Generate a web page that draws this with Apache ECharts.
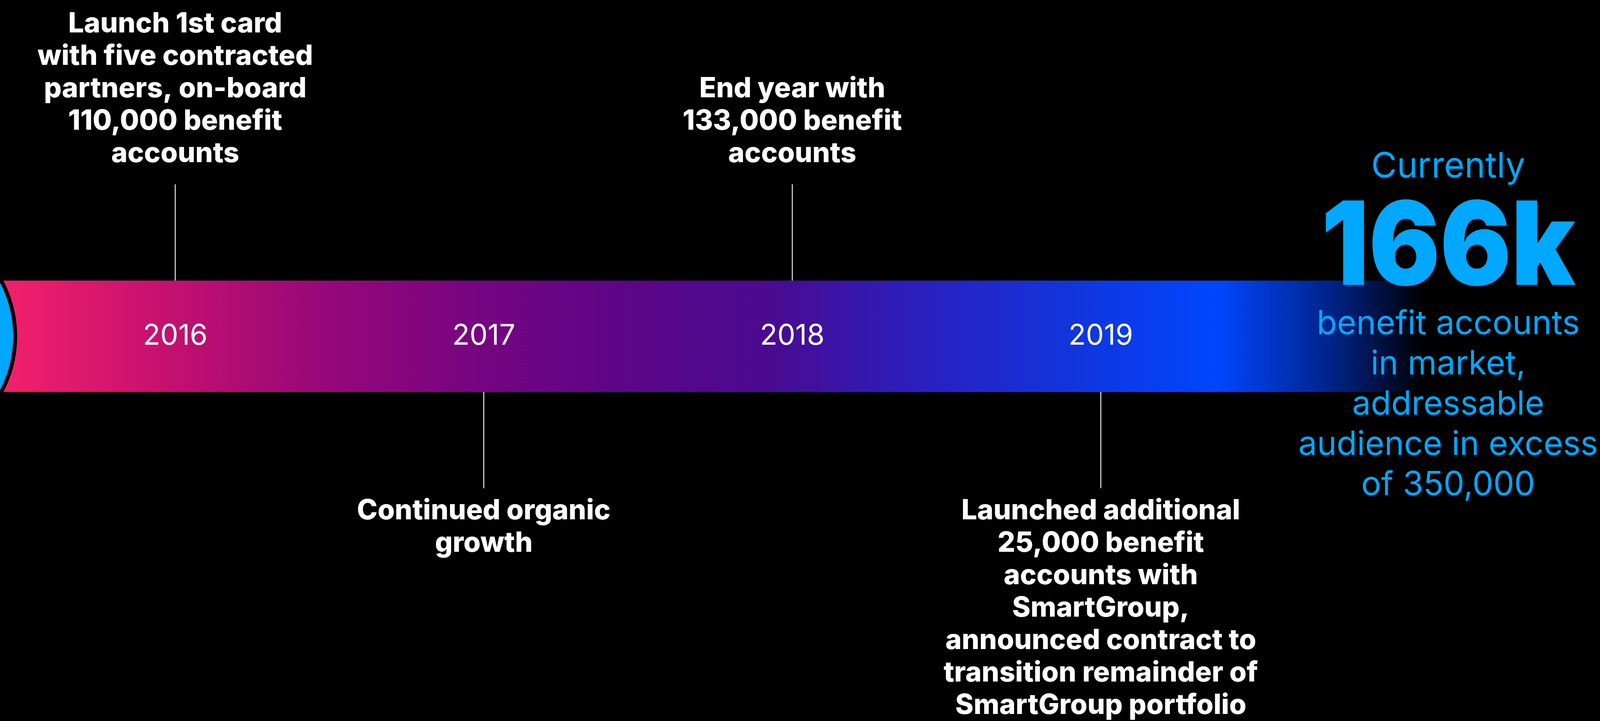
<!DOCTYPE html>
<html><head><meta charset="utf-8">
<script src="https://cdn.jsdelivr.net/npm/echarts@6/dist/echarts.min.js"></script>
<style>html,body{margin:0;padding:0;background:#000;overflow:hidden;width:100%;height:100%}#chart{width:100vw;height:100vh;}</style>
</head><body><div id="chart"></div>
<script>
// ---- data ----
const years = [2016, 2017, 2018, 2019];
const yearLabels = ['2016', '2017', '2018', '2019'];
const milestoneText = [
  ['Launch 1st card', 'with five contracted', 'partners, on-board', '110,000 benefit', 'accounts'],
  ['Continued organic', 'growth'],
  ['End year with', '133,000 benefit', 'accounts'],
  ['Launched additional', '25,000 benefit', 'accounts with', 'SmartGroup,', 'announced contract to', 'transition remainder of', 'SmartGroup portfolio']
];
const milestoneSide = ['above', 'below', 'above', 'below'];
const currentLabel = 'Currently';
const currentValue = '166k';
const currentDetail = ['benefit accounts', 'in market,', 'addressable', 'audience in excess', 'of 350,000'];
const timelineStart = 2015.432;
const timelineEnd = 2020.05;
const originPoint = 2015.10;
const currentPoint = 2020.126;

// ---- layout / style ----
const X_MIN = 2015.432, X_MAX = 2020.618;
const Y_MIN = -6.91, Y_MAX = 6.04;
const BAND = 1, STEM = 2.73;
const BLUE = '#00a8ff';
const FONT = 'Inter';
const NOBORDER = {textBorderWidth: 0, textBorderColor: 'transparent', textShadowBlur: 0, opacity: 1};

const chart = echarts.init(document.getElementById('chart'), null, {renderer: 'canvas'});

const bandSeries = {
  type: 'custom', silent: true, z: 1, clip: false,
  data: [[timelineStart, timelineEnd]],
  encode: {x: [0, 1]},
  renderItem(params, api) {
    const p0 = api.coord([api.value(0), BAND]);
    const p1 = api.coord([api.value(1), -BAND]);
    return {
      type: 'rect',
      shape: {x: p0[0], y: p0[1], width: p1[0] - p0[0], height: p1[1] - p0[1]},
      style: {
        fill: new echarts.graphic.LinearGradient(0, 0, 1, 0, [
          {offset: 0.00, color: '#f3216a'},
          {offset: 0.11, color: '#c8116f'},
          {offset: 0.22, color: '#9a0879'},
          {offset: 0.33, color: '#780481'},
          {offset: 0.43, color: '#5e0587'},
          {offset: 0.54, color: '#4a0a90'},
          {offset: 0.64, color: '#2c1ebd'},
          {offset: 0.75, color: '#1234dc'},
          {offset: 0.855, color: '#0046ff'},
          {offset: 0.93, color: '#002590'},
          {offset: 1.00, color: '#000000'}
        ])
      }
    };
  }
};

const stemSeries = {
  type: 'custom', silent: true, z: 2,
  data: years.map((y, i) => milestoneSide[i] === 'above' ? [y, BAND, STEM] : [y, -BAND, -STEM]),
  encode: {x: 0, y: [1, 2]},
  renderItem(params, api) {
    const a = api.coord([api.value(0), api.value(1)]);
    const b = api.coord([api.value(0), api.value(2)]);
    return {type: 'line', shape: {x1: a[0], y1: a[1], x2: b[0], y2: b[1]},
      style: {stroke: '#e8e8e8', lineWidth: 2.5}};
  }
};

const originSeries = {
  type: 'scatter', silent: true, z: 3, clip: false,
  data: [[originPoint, 0]],
  symbol: 'circle', symbolSize: 602,
  itemStyle: {color: BLUE, borderColor: '#000', borderWidth: 10, opacity: 1}
};

const yearSeries = {
  type: 'scatter', silent: true, z: 4,
  data: years.map((y, i) => ({value: [y, 0], label: {formatter: yearLabels[i]}})),
  symbolSize: 0,
  itemStyle: {color: '#ffffff', opacity: 1},
  label: Object.assign({show: true, position: 'inside', color: '#ffffff', fontFamily: FONT, fontWeight: 400, fontSize: 73}, NOBORDER)
};

const noteSeries = {
  type: 'scatter', silent: true, z: 4,
  data: years.map((y, i) => {
    const up = milestoneSide[i] === 'above';
    return {
      value: [y, up ? STEM : -STEM],
      label: {formatter: milestoneText[i].join('\n'), position: up ? 'top' : 'bottom', distance: up ? 36 : 17}
    };
  }),
  symbolSize: 0,
  itemStyle: {color: '#ffffff', opacity: 1},
  label: Object.assign({show: true, color: '#ffffff', fontFamily: FONT, fontWeight: 800, fontSize: 71, lineHeight: 83, align: 'center'}, NOBORDER)
};

const currentSeries = {
  type: 'scatter', silent: true, z: 5, clip: false,
  data: [
    {value: [currentPoint, 3.04], label: {formatter: currentLabel, fontSize: 90, fontWeight: 400}},
    {value: [currentPoint, -1.23], label: {formatter: currentDetail.join('\n'), fontSize: 85, fontWeight: 400, lineHeight: 103}}
  ],
  symbolSize: 0,
  itemStyle: {color: BLUE, opacity: 1},
  label: Object.assign({show: true, position: 'inside', color: BLUE, fontFamily: FONT, align: 'center'}, NOBORDER)
};

const currentValueSeries = {
  type: 'custom', silent: true, z: 6, clip: false,
  data: [[currentPoint, 1.55]],
  encode: {x: 0, y: 1},
  renderItem(params, api) {
    const p = api.coord([api.value(0), api.value(1)]);
    return {
      type: 'text', x: p[0], y: p[1], scaleY: 1.1,
      style: {text: currentValue, fill: BLUE, fontFamily: FONT, fontWeight: 900, fontSize: 270,
        align: 'center', verticalAlign: 'middle'}
    };
  }
};

chart.setOption({
  backgroundColor: '#000',
  animation: false,
  grid: {left: 0, right: 0, top: 0, bottom: 0},
  xAxis: {type: 'value', min: X_MIN, max: X_MAX, show: false},
  yAxis: {type: 'value', min: Y_MIN, max: Y_MAX, show: false},
  series: [bandSeries, stemSeries, originSeries, yearSeries, noteSeries, currentSeries, currentValueSeries]
});
window.addEventListener('resize', () => chart.resize());
</script></body></html>
